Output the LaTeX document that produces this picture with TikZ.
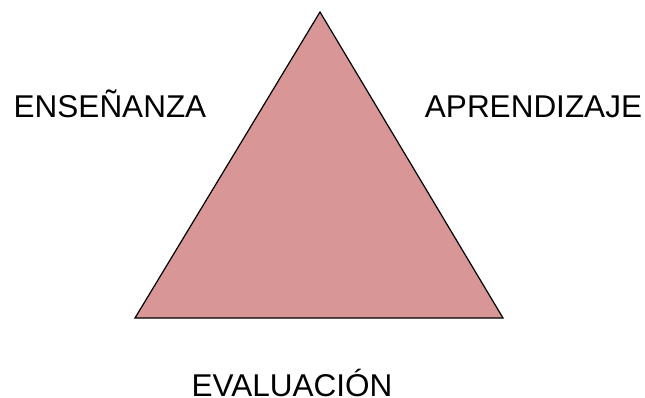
\documentclass[tikz,border=0pt]{standalone}
\usepackage{fontspec}
\setmainfont{Liberation Sans}
\definecolor{triangulo}{RGB}{216,150,150}
\begin{document}
\begin{tikzpicture}[x=1pt,y=-1pt,
		etiqueta/.style={anchor=base,inner sep=0pt,text depth=0pt,font=\fontsize{31.5}{36}\selectfont}]
			\useasboundingbox (0,0) rectangle (645,398);
			\coordinate (arriba) at (320,12);
			\coordinate (izq) at (135,318);
			\coordinate (der) at (503,318);
			\draw[fill=triangulo,line width=1.2pt,line join=miter] (arriba) -- (der) -- (izq) -- cycle;
			\node[etiqueta] (ensenanza) at (110,118) {ENSEÑANZA};
			\node[etiqueta] (aprendizaje) at (533.5,118) {APRENDIZAJE};
			\node[etiqueta] (evaluacion) at (292,396) {EVALUACIÓN};
		\end{tikzpicture}
\end{document}
